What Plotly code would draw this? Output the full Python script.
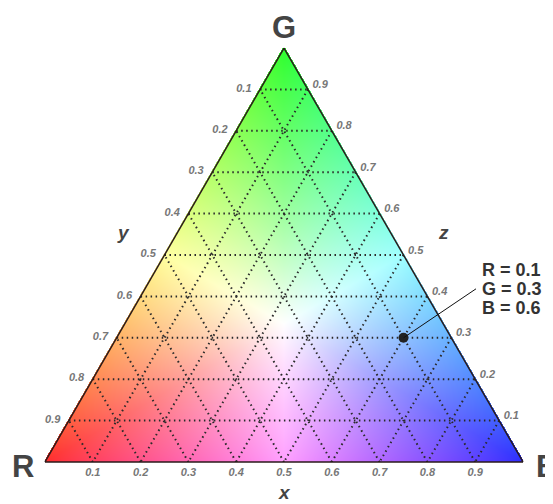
import base64
import struct
import zlib

import numpy as np
import plotly.graph_objects as go

# Chart values
tick_vals = [0.1, 0.2, 0.3, 0.4, 0.5, 0.6, 0.7, 0.8, 0.9]
tick_labels = ["0.9", "0.8", "0.7", "0.6", "0.5", "0.4", "0.3", "0.2", "0.1"]
vertex_names = ["G", "R", "B"]  # top, bottom-left, bottom-right
edge_names = ["y", "x", "z"]  # left, bottom, right
point_r = [0.1]
point_g = [0.3]
point_b = [0.6]

# the page body adds an 8px margin, so the figure is 8px smaller and
# every pixel position below is given in figure coordinates
OFF = 8
W, H = 553 - OFF, 504 - OFF
TX0, TX1 = 45 - OFF, 523 - OFF
TY0, TY1 = 48 - OFF, 462 - OFF
dom_x = [TX0 / W, TX1 / W]
dom_y = [1 - TY1 / H, 1 - TY0 / H]


def px(x, y):
    """reference-pixel position -> paper coordinates"""
    return (x - OFF) / W, 1 - (y - OFF) / H


def png_data_uri(rgba):
    h, w, _ = rgba.shape
    raw = b"".join(b"\x00" + rgba[i].tobytes() for i in range(h))

    def chunk(tag, data):
        c = struct.pack(">I", len(data)) + tag + data
        return c + struct.pack(">I", zlib.crc32(tag + data) & 0xFFFFFFFF)

    png = b"\x89PNG\r\n\x1a\n"
    png += chunk(b"IHDR", struct.pack(">IIBBBBB", w, h, 8, 6, 0, 0, 0))
    png += chunk(b"IDAT", zlib.compress(raw, 9))
    png += chunk(b"IEND", b"")
    return "data:image/png;base64," + base64.b64encode(png).decode()


def colour_triangle(w, h):
    """RGB mixing background for the triangle (G top, R left, B right)."""
    xs = (np.arange(w) + 0.5) / w
    ys = (np.arange(h) + 0.5) / h
    X, Y = np.meshgrid(xs, ys)
    g = 1 - Y
    b = X - g / 2
    r = 1 - g - b
    c = np.stack([r, g, b], axis=-1)
    inside = (c >= -0.003).all(axis=-1)
    c = np.clip(c, 0, 1)
    mx = c.max(axis=-1, keepdims=True)
    norm = (c / np.maximum(mx, 1e-9)) ** 0.8
    second = np.sort(norm, axis=-1)[..., 1:2]
    wmix = 0.17 + 0.45 * second
    out = norm * (1 - wmix) + wmix
    rgba = np.zeros((h, w, 4), dtype=np.uint8)
    rgba[..., :3] = np.clip(out * 255, 0, 255).astype(np.uint8)
    rgba[..., 3] = np.where(inside, 255, 0)
    return rgba


fig = go.Figure()

fig.add_trace(
    go.Scatterternary(
        a=point_g,
        b=point_r,
        c=point_b,
        mode="markers",
        marker=dict(size=10, color="#222222"),
        showlegend=False,
        hoverinfo="skip",
    )
)

tick_font = dict(family="Liberation Sans, Arial", size=11, color="#777777",
                 style="italic", weight="bold")
axis_common = dict(
    tickmode="array",
    tickvals=tick_vals,
    ticktext=tick_labels,
    ticks="outside",
    ticklen=6,
    tickcolor="rgba(0,0,0,0)",
    tickfont=tick_font,
    showgrid=True,
    gridcolor="#2a2a2a",
    gridwidth=1.5,
    griddash="1.5px,3.5px",
    showline=True,
    linecolor="#2a1a1a",
    linewidth=1.5,
    title=dict(text=""),
)

fig.update_layout(
    width=W,
    height=H,
    margin=dict(l=0, r=0, t=0, b=0),
    paper_bgcolor="white",
    showlegend=False,
    ternary=dict(
        domain=dict(x=dom_x, y=dom_y),
        sum=1,
        bgcolor="rgba(0,0,0,0)",
        aaxis=axis_common,
        baxis={**axis_common, "ticks": "", "ticklen": 0},
        caxis={**axis_common, "ticklen": 4},
    ),
    images=[
        dict(
            source=png_data_uri(colour_triangle(TX1 - TX0, TY1 - TY0)),
            xref="paper",
            yref="paper",
            x=dom_x[0],
            y=dom_y[1],
            sizex=dom_x[1] - dom_x[0],
            sizey=dom_y[1] - dom_y[0],
            xanchor="left",
            yanchor="top",
            sizing="stretch",
            layer="below",
        )
    ],
)

vfont = dict(family="Liberation Sans, Arial", size=31, color="#444444", weight="bold")
efont = dict(family="Liberation Sans, Arial", size=19, color="#444444",
             weight="bold", style="italic")

labels = [
    (vertex_names[0], 284, 28, vfont),
    (vertex_names[1], 23, 466, vfont),
    (vertex_names[2], 547, 466, vfont),
    (edge_names[0], 123, 232, efont),
    (edge_names[1], 284, 492, efont),
    (edge_names[2], 443, 232, efont),
]
for txt, x, y, f in labels:
    ax_, ay_ = px(x, y)
    fig.add_annotation(text=txt, x=ax_, y=ay_, xref="paper", yref="paper",
                       showarrow=False, xanchor="center", yanchor="middle", font=f)

# leader line and label for the marked point
pt_x = dom_x[0] + (point_b[0] + point_g[0] / 2) * (dom_x[1] - dom_x[0])
pt_y = dom_y[0] + point_g[0] * (dom_y[1] - dom_y[0])
fig.add_annotation(
    x=pt_x, y=pt_y, xref="paper", yref="paper", text="",
    showarrow=True, arrowhead=0, arrowwidth=1, arrowcolor="#111111",
    ax=74, ay=-50, standoff=0,
)
lfont = dict(family="Liberation Sans, Arial", size=18, color="#333333", weight="bold")
for i, line in enumerate([f"R = {point_r[0]}", f"G = {point_g[0]}", f"B = {point_b[0]}"]):
    lx, ly = px(480, 270 + 19 * i)
    fig.add_annotation(x=lx, y=ly, xref="paper", yref="paper", text=line,
                       showarrow=False, xanchor="left", yanchor="middle", font=lfont)

fig.write_html("out.html")
